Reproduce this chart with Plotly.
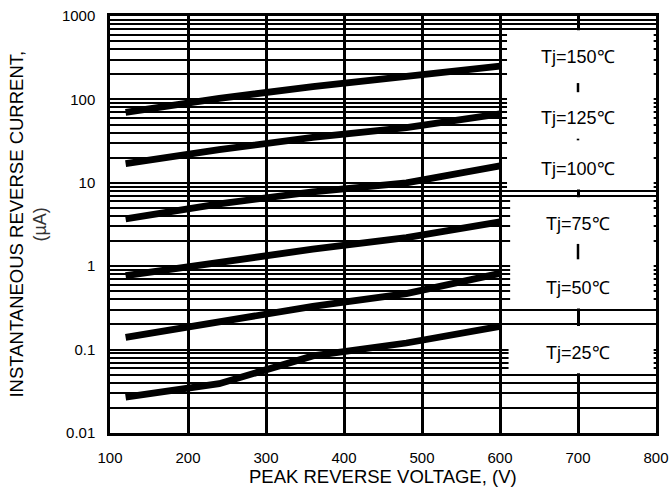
import math
import plotly.graph_objects as go

# ---- data ----
voltage = [120, 240, 360, 480, 600]
i_150 = [70, 103, 142, 190, 250]
i_125 = [17, 25, 35, 46, 67]
i_100 = [3.7, 5.6, 7.8, 10, 16]
i_75 = [0.77, 1.13, 1.6, 2.2, 3.4]
i_50 = [0.14, 0.22, 0.33, 0.47, 0.82]
i_25 = [0.027, 0.039, 0.084, 0.12, 0.19]

series = [("Tj=150℃", i_150), ("Tj=125℃", i_125), ("Tj=100℃", i_100),
          ("Tj=75℃", i_75), ("Tj=50℃", i_50), ("Tj=25℃", i_25)]

x_ticks = [100, 200, 300, 400, 500, 600, 700, 800]
y_ticks = [0.01, 0.1, 1, 10, 100, 1000]
y_ticktext = ["0.01", "0.1", "1", "10", "100", "1000"]

label_text = ["Tj=150℃", "Tj=125℃", "Tj=100℃", "Tj=75℃", "Tj=50℃", "Tj=25℃"]
label_y = [321, 60, 14.6, 3.2, 0.55, 0.091]
label_x = 700

FONT = "Liberation Sans, Arial, sans-serif"

fig = go.Figure()
for name, vals in series:
    fig.add_trace(go.Scatter(x=voltage, y=vals, mode="lines", name=name,
                             line=dict(color="black", width=6.8),
                             showlegend=False, hoverinfo="skip"))

minor_vals = [m * 10 ** k for k in range(-2, 3) for m in range(2, 10)]

L = math.log10
# white label boxes (cover the grid) -- shape coords are data values here
boxes = [(609, 797, 8.3, 673), (613, 797, 0.312, 6.73), (611, 797, 0.052, 0.192)]
shapes = []
for x0, x1, y0, y1 in boxes:
    shapes.append(dict(type="rect", xref="x", yref="y", x0=x0, x1=x1,
                       y0=y0, y1=y1, fillcolor="white",
                       line=dict(width=0), layer="between"))
# grid fragments visible between labels
for y0, y1 in [(122, 157), (32.3, 33.8), (1.21, 1.85)]:
    shapes.append(dict(type="line", xref="x", yref="y", x0=700, x1=700,
                       y0=y0, y1=y1, line=dict(color="black", width=2.5),
                       layer="above"))

annotations = []
for t, yv in zip(label_text, label_y):
    annotations.append(dict(x=label_x, y=L(yv), xref="x", yref="y", text=t,
                            showarrow=False, font=dict(size=18, color="black", family=FONT)))

annotations.append(dict(x=0.5, y=-0.1055, xref="paper", yref="paper",
                        text="PEAK REVERSE VOLTAGE, (V)", showarrow=False,
                        xanchor="center", yanchor="middle",
                        font=dict(size=18.5, color="black", family=FONT)))
annotations.append(dict(x=-0.172, y=0.5, xref="paper", yref="paper",
                        text="INSTANTANEOUS REVERSE CURRENT,", showarrow=False,
                        textangle=-90, xanchor="center", yanchor="middle",
                        font=dict(size=18.5, color="black", family=FONT)))
annotations.append(dict(x=-0.13, y=0.5, xref="paper", yref="paper",
                        text="(µA)", showarrow=False,
                        textangle=-90, xanchor="center", yanchor="middle",
                        font=dict(size=18, color="#333333", family=FONT)))

fig.update_layout(
    width=671, height=496,
    margin=dict(l=110, r=15, t=16, b=63, autoexpand=False),
    paper_bgcolor="white", plot_bgcolor="white",
    shapes=shapes, annotations=annotations,
    hovermode=False,
    xaxis=dict(range=[100, 800], tickvals=x_ticks, ticktext=[str(v) for v in x_ticks],
               showgrid=True, gridcolor="black", gridwidth=2.5,
               showline=True, linecolor="black", linewidth=2.5, mirror=True,
               ticks="", ticklen=0, ticklabelstandoff=9, zeroline=False, automargin=False,
               ticklabeloverflow="allow",
               tickfont=dict(size=15, color="black", family=FONT)),
    yaxis=dict(type="log", range=[-2, 3], tickvals=y_ticks, ticktext=y_ticktext,
               showgrid=True, gridcolor="black", gridwidth=2,
               minor=dict(tickvals=minor_vals, showgrid=True, gridcolor="black",
                          gridwidth=2, ticks=""),
               showline=True, linecolor="black", linewidth=2.5, mirror=True,
               ticks="", ticklen=0, ticklabelstandoff=9, zeroline=False, automargin=False,
               ticklabeloverflow="allow",
               tickfont=dict(size=15, color="black", family=FONT)),
)

# remove the default page margin so the figure fills the window exactly
fig.write_html("out.html", config={"displayModeBar": False},
               post_script="document.body.style.margin='0';document.body.style.overflow='hidden';")
